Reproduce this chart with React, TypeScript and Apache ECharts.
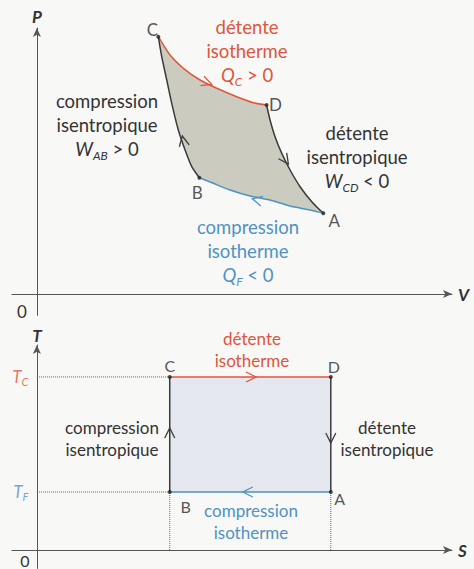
import React, { useEffect, useRef } from 'react';
import * as echarts from 'echarts';

// ---------- P–V diagram: branches of the cycle as [V, P] ----------
const pvIsothermCD = [[2.925, 9.673], [3.207, 8.985], [3.528, 8.485], [3.93, 8.045], [4.333, 7.733], [4.814, 7.417], [5.214, 7.192], [5.533, 7.105]];
const pvAdiabatDA = [[5.533, 7.105], [5.617, 6.541], [5.737, 5.914], [5.899, 5.289], [6.099, 4.662], [6.34, 4.034], [6.622, 3.47], [6.901, 3.034]];
const pvIsothermAB = [[6.901, 3.034], [6.581, 3.158], [6.099, 3.308], [5.616, 3.534], [5.135, 3.684], [4.653, 3.91], [4.251, 4.162], [3.913, 4.372]];
const pvAdiabatBC = [[3.913, 4.372], [3.73, 4.786], [3.569, 5.414], [3.407, 6.165], [3.248, 7.169], [3.128, 8.045], [3.007, 8.921], [2.925, 9.673]];
const pvStateNames = ['A', 'B', 'C', 'D'];
const pvStateV = [6.901, 3.913, 2.925, 5.533];
const pvStateP = [3.034, 4.372, 9.673, 7.105];
// direction marks on each branch: [V_from, P_from, V_to, P_to]
const pvArrowCD = [3.95, 8.03, 4.21, 7.88];
const pvArrowDA = [5.93, 5.17, 6.058, 4.887];
const pvArrowAB = [5.497, 3.459, 5.19, 3.58];
const pvArrowBC = [3.569, 5.414, 3.504, 5.94];

// ---------- T–S diagram ----------
const S_B = 3.2;
const S_A = 7.08;
const T_F = 2.83;
const T_C = 8.44;
const tsStateNames = ['A', 'B', 'C', 'D'];
const tsStateS = [S_A, S_B, S_B, S_A];
const tsStateT = [T_F, T_F, T_C, T_C];
const tsArrowCD = [5.0, T_C, 5.28, T_C];
const tsArrowDA = [S_A, 5.6, S_A, 5.22];
const tsArrowAB = [5.3, T_F, 4.96, T_F];
const tsArrowBC = [S_B, 5.5, S_B, 5.95];

const FONT = 'Lato';
const RED = '#e0553d';
const BLUE = '#4f92c4';
const INK = '#333333';
const CURVE = '#3a3a3a';
const AXIS = '#555555';
const BG = '#f8f8f6';

const pvLabelOffset: Record<string, number[]> = { A: [11, 7], B: [-2, 15], C: [-6, -7], D: [9, -1] };
const tsLabelOffset: Record<string, number[]> = { A: [9, 7], B: [16, 15], C: [0, -11], D: [3, -10] };

const curve = (data: number[][], color: string, gi: number) => ({
  type: 'line',
  xAxisIndex: gi,
  yAxisIndex: gi,
  data,
  smooth: 0.25,
  showSymbol: false,
  silent: true,
  z: 3,
  lineStyle: { color, width: 1.5 },
});

const dotted = (data: number[][]) => ({
  type: 'line',
  xAxisIndex: 1,
  yAxisIndex: 1,
  data,
  showSymbol: false,
  silent: true,
  z: 2,
  lineStyle: { color: '#666', width: 1, type: 'dotted' },
});

const arrow = (a: number[], color: string, gi: number) => ({
  type: 'custom',
  xAxisIndex: gi,
  yAxisIndex: gi,
  silent: true,
  z: 4,
  data: [a],
  encode: { x: [0, 2], y: [1, 3] },
  renderItem: (_params: any, api: any) => {
    const p1 = api.coord([api.value(0), api.value(1)]);
    const p2 = api.coord([api.value(2), api.value(3)]);
    let dx = p2[0] - p1[0];
    let dy = p2[1] - p1[1];
    const len = Math.hypot(dx, dy) || 1;
    dx /= len;
    dy /= len;
    const L = 10;
    const W = 5;
    const bx = p2[0] - dx * L;
    const by = p2[1] - dy * L;
    return {
      type: 'polyline',
      shape: { points: [[bx - dy * W, by + dx * W], p2, [bx + dy * W, by - dx * W]] },
      style: { stroke: color, lineWidth: 1.3, fill: null },
    };
  },
});

const area = (pts: number[][], color: string, gi: number) => ({
  type: 'custom',
  xAxisIndex: gi,
  yAxisIndex: gi,
  silent: true,
  z: 1,
  data: [[0, 0]],
  renderItem: (_params: any, api: any) => ({
    type: 'polygon',
    shape: { points: pts.map((p) => api.coord(p)) },
    style: { fill: color },
  }),
});

const states = (names: string[], xs: number[], ys: number[], offs: Record<string, number[]>, size: number, gi: number) => ({
  type: 'scatter',
  xAxisIndex: gi,
  yAxisIndex: gi,
  silent: true,
  z: 5,
  symbolSize: 4,
  itemStyle: { color: '#222' },
  data: names.map((n, i) => ({
    name: n,
    value: [xs[i], ys[i]],
    label: {
      show: true,
      formatter: n,
      position: 'inside',
      offset: offs[n],
      color: '#2a2a2a',
      fontFamily: FONT,
      fontSize: size,
    },
  })),
});

// temperature marks T_C and T_F beside the T axis
const tempRich = {
  rt: { fontFamily: FONT, fontStyle: 'italic', fontSize: 17, color: RED, lineHeight: 20 },
  rs: { fontFamily: FONT, fontStyle: 'italic', fontSize: 11, color: RED, lineHeight: 10, verticalAlign: 'bottom' },
  bt: { fontFamily: FONT, fontStyle: 'italic', fontSize: 17, color: BLUE, lineHeight: 20 },
  bs: { fontFamily: FONT, fontStyle: 'italic', fontSize: 11, color: BLUE, lineHeight: 10, verticalAlign: 'bottom' },
};
const tempMarks = {
  type: 'scatter',
  xAxisIndex: 1,
  yAxisIndex: 1,
  silent: true,
  z: 5,
  symbolSize: 1,
  itemStyle: { color: 'rgba(0,0,0,0)' },
  data: [
    { value: [0, T_C], label: { formatter: '{rt|T}{rs|C}' } },
    { value: [0, T_F], label: { formatter: '{bt|T}{bs|F}' } },
  ],
  label: { show: true, position: 'left', distance: 8, rich: tempRich },
};

const richSet = (color: string, size: number, lh: number) => ({
  i: { fontStyle: 'italic', fontSize: size, fill: color, color, fontFamily: FONT, lineHeight: lh },
  s: { fontStyle: 'italic', fontSize: Math.round(size * 0.66), fill: color, color, fontFamily: FONT, lineHeight: 12, verticalAlign: 'bottom' },
  n: { fontSize: size, fill: color, color, fontFamily: FONT, lineHeight: lh },
});

const txt = (x: number, y: number, text: string, color: string, size: number, lh: number) => ({
  type: 'text',
  x,
  y,
  silent: true,
  z: 10,
  style: {
    text,
    fill: color,
    fontFamily: FONT,
    fontSize: size,
    lineHeight: lh,
    align: 'center',
    textAlign: 'center',
    verticalAlign: 'top',
    textVerticalAlign: 'top',
    rich: richSet(color, size, lh),
  },
});

const axisName = (name: string) => ({
  name,
  nameLocation: 'end',
  nameTextStyle: { fontFamily: FONT, fontStyle: 'italic', fontWeight: 'bold', fontSize: 17, color: INK },
});

const hiddenBits = {
  axisTick: { show: false },
  splitLine: { show: false },
  axisLabel: { show: false },
};

const axisLine = {
  onZero: true,
  symbol: ['none', 'arrow'],
  symbolSize: [6, 9],
  lineStyle: { color: AXIS, width: 1 },
};

export default function App() {
  const ref = useRef<HTMLDivElement>(null);

  useEffect(() => {
    if (!ref.current) return;
    const chart = echarts.init(ref.current, null, { renderer: 'svg' });

    const option: any = {
      animation: false,
      backgroundColor: BG,
      grid: [
        { left: 12, width: 440, top: 28, height: 287.3, containLabel: false, outerBoundsMode: 'none' },
        { left: 12, width: 440, top: 345, height: 223.45, containLabel: false, outerBoundsMode: 'none' },
      ],
      xAxis: [
        { type: 'value', gridIndex: 0, min: -0.6, max: 10, ...hiddenBits, axisLine, ...axisName('V'), nameGap: 6 },
        { type: 'value', gridIndex: 1, min: -0.6, max: 10, ...hiddenBits, axisLine, ...axisName('S'), nameGap: 6 },
      ],
      yAxis: [
        { type: 'value', gridIndex: 0, min: -0.8, max: 10, ...hiddenBits, axisLine, ...axisName('P'), nameGap: 3 },
        { type: 'value', gridIndex: 1, min: -0.9, max: 10, ...hiddenBits, axisLine, ...axisName('T'), nameGap: 1 },
      ],
      series: [
        // P–V cycle
        area([...pvIsothermCD, ...pvAdiabatDA, ...pvIsothermAB, ...pvAdiabatBC], '#cbccbf', 0),
        curve(pvIsothermCD, RED, 0),
        curve(pvAdiabatDA, CURVE, 0),
        curve(pvIsothermAB, BLUE, 0),
        curve(pvAdiabatBC, CURVE, 0),
        arrow(pvArrowCD, RED, 0),
        arrow(pvArrowDA, CURVE, 0),
        arrow(pvArrowAB, BLUE, 0),
        arrow(pvArrowBC, CURVE, 0),
        states(pvStateNames, pvStateV, pvStateP, pvLabelOffset, 17, 0),
        // T–S cycle
        area(tsStateS.map((s, i) => [s, tsStateT[i]]), '#e4e7ee', 1),
        dotted([[0, T_C], [S_B, T_C]]),
        dotted([[0, T_F], [S_B, T_F]]),
        dotted([[S_B, 0], [S_B, T_F]]),
        dotted([[S_A, 0], [S_A, T_F]]),
        curve([[S_B, T_C], [S_A, T_C]], RED, 1),
        curve([[S_A, T_C], [S_A, T_F]], CURVE, 1),
        curve([[S_A, T_F], [S_B, T_F]], BLUE, 1),
        curve([[S_B, T_F], [S_B, T_C]], CURVE, 1),
        arrow(tsArrowCD, RED, 1),
        arrow(tsArrowDA, CURVE, 1),
        arrow(tsArrowAB, BLUE, 1),
        arrow(tsArrowBC, CURVE, 1),
        states(tsStateNames, tsStateS, tsStateT, tsLabelOffset, 16, 1),
        tempMarks,
      ],
      graphic: [
        txt(247, 15, 'détente\nisotherme\n{i|Q}{s|C}{n| > 0}', RED, 18.5, 24),
        txt(107, 89, 'compression\nisentropique\n{i|W}{s|AB}{n| > 0}', INK, 18.5, 24),
        txt(357, 121, 'détente\nisentropique\n{i|W}{s|CD}{n| < 0}', INK, 18.5, 24),
        txt(248, 215, 'compression\nisotherme\n{i|Q}{s|F}{n| < 0}', BLUE, 18.5, 24),
        txt(22, 301, '0', INK, 17, 20),
        txt(252, 327, 'détente\nisotherme', RED, 17, 22),
        txt(112, 416, 'compression\nisentropique', INK, 17, 22),
        txt(387, 416, 'détente\nisentropique', INK, 17, 22),
        txt(251, 499, 'compression\nisotherme', BLUE, 17, 22),
        txt(25, 551, '0', INK, 16, 18),
      ],
    };

    chart.setOption(option);
    return () => chart.dispose();
  }, []);

  return (
    <div
      ref={ref}
      style={{ position: 'fixed', left: 0, top: 0, width: 474, height: 569, background: BG }}
    />
  );
}
